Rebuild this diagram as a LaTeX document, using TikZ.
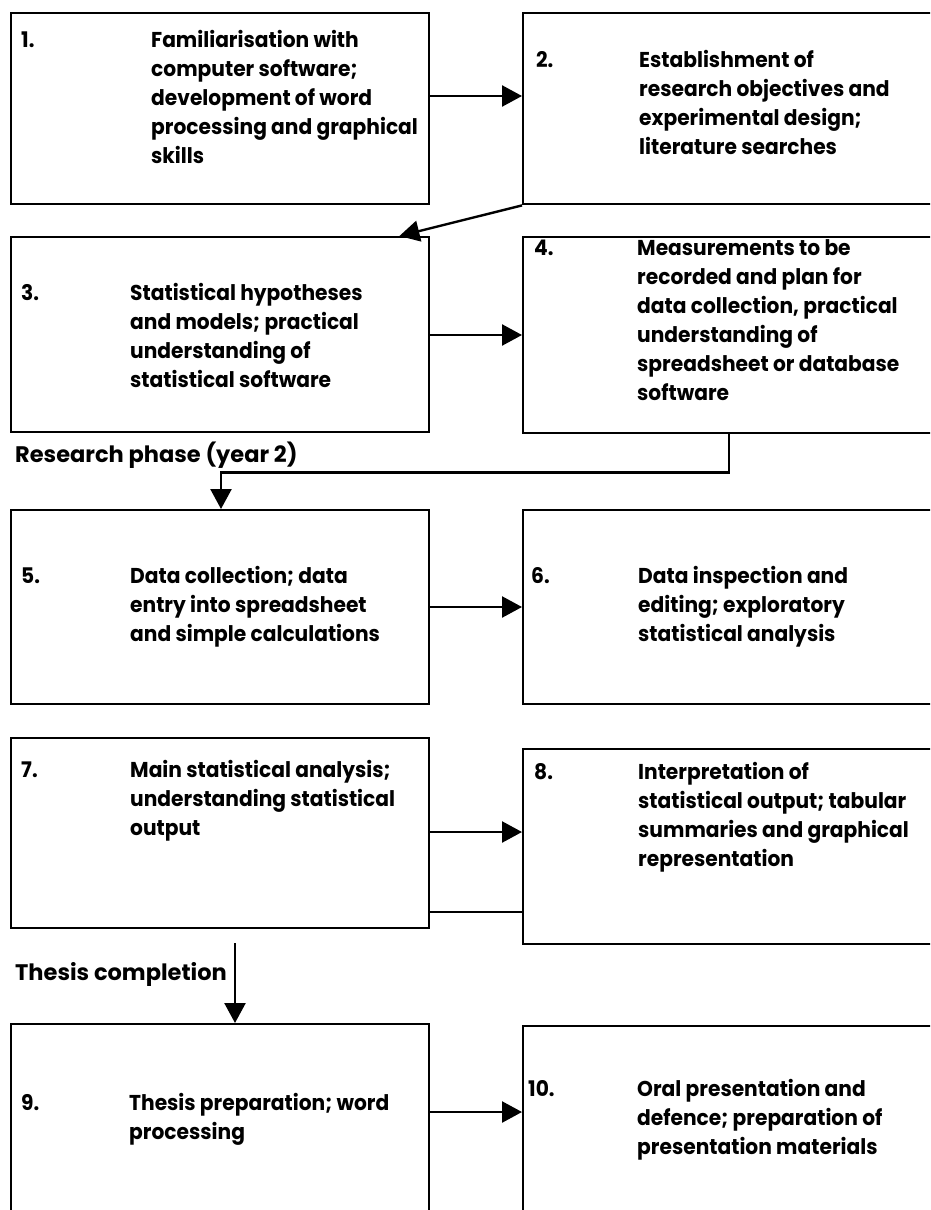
\documentclass[tikz,border=0pt]{standalone}
\usepackage{fontspec}
\setmainfont{Poppins}[FakeStretch=0.94]
\newfontfamily\phasefont{Poppins}[FakeStretch=1.0]
\usetikzlibrary{arrows.meta,calc}
\newcommand\mylines[1]{\begin{tabular}[t]{@{}l@{}}#1\end{tabular}}
\begin{document}
\begin{tikzpicture}[x=1pt,y=-1pt,
  box/.style={draw,line width=2.4pt,inner sep=0pt,anchor=north west,minimum height=#1},
  lbox/.style={box=#1,minimum width=418pt},
  rbox/.style={box=#1,minimum width=430pt},
  lbl/.style={anchor=base west,inner sep=0pt,font=\bfseries\fontsize{21.5}{29}\selectfont},
  phase/.style={anchor=base west,inner sep=0pt,font=\phasefont\bfseries\fontsize{22.5}{29}\selectfont},
  conn/.style={line width=2.4pt},
  arr/.style={conn,-{Triangle[length=20pt,width=21pt]}}]
\clip (0,0) rectangle (930,1210);
% boxes
\node[lbox=191pt] (b1) at (10,12) {};
\node[rbox=191pt] (b2) at (522,12) {};
\node[lbox=195pt] (b3) at (10,236) {};
\node[rbox=196pt] (b4) at (522,236) {};
\node[lbox=194pt] (b5) at (10,509) {};
\node[rbox=194pt] (b6) at (522,509) {};
\node[lbox=190pt] (b7) at (10,737) {};
\node[rbox=195pt] (b8) at (522,748) {};
\node[lbox=210pt] (b9) at (10,1023) {};
\node[rbox=210pt] (b10) at (522,1025) {};
% numbers and texts
\node[lbl] (n1) at (21,47) {1.};
\node[lbl] (t1) at (151,47) {\mylines{Familiarisation with\\computer software;\\development of word\\processing and graphical\\skills}};
\node[lbl] (n2) at (536,67) {2.};
\node[lbl] (t2) at (639,67) {\mylines{Establishment of\\research objectives and\\experimental design;\\literature searches}};
\node[lbl] (n3) at (21,300) {3.};
\node[lbl] (t3) at (130,300) {\mylines{Statistical hypotheses\\and models; practical\\understanding of\\statistical software}};
\node[lbl] (n4) at (534,255) {4.};
\node[lbl] (t4) at (637,255) {\mylines{Measurements to be\\recorded and plan for\\data collection, practical\\understanding of\\spreadsheet or database\\software}};
\node[lbl] (n5) at (21,583) {5.};
\node[lbl] (t5) at (130,583) {\mylines{Data collection; data\\entry into spreadsheet\\and simple calculations}};
\node[lbl] (n6) at (531,583) {6.};
\node[lbl] (t6) at (638,583) {\mylines{Data inspection and\\editing; exploratory\\statistical analysis}};
\node[lbl] (n7) at (21,777) {7.};
\node[lbl] (t7) at (130,777) {\mylines{Main statistical analysis;\\understanding statistical\\output}};
\node[lbl] (n8) at (534,779) {8.};
\node[lbl] (t8) at (638,779) {\mylines{Interpretation of\\statistical output; tabular\\summaries and graphical\\representation}};
\node[lbl] (n9) at (21,1110) {9.};
\node[lbl] (t9) at (129,1110) {\mylines{Thesis preparation; word\\processing}};
\node[lbl] (n10) at (528,1096) {10.};
\node[lbl] (t10) at (637,1096) {\mylines{Oral presentation and\\defence; preparation of\\presentation materials}};
% phase labels
\node[phase] (ph1) at (15,462) {Research phase (year 2)};
\node[phase] (ph2) at (15,980) {Thesis completion};
% connectors
\coordinate (a12) at ($(b1.north east)+(0,84)$);
\draw[arr] (a12) -- (a12 -| b2.west);
\draw[arr] (b2.south west) -- ($(b3.north east)+(-31,0)$);
\coordinate (a34) at ($(b3.north east)+(0,99)$);
\draw[arr] (a34) -- (a34 -| b4.west);
\coordinate (s4) at ($(b4.south west)+(207,0)$);
\coordinate (e5) at ($(b5.north west)+(211,0)$);
\draw[arr] (s4) -- ++(0,38) -| (e5);
\coordinate (a56) at ($(b5.north east)+(0,98)$);
\draw[arr] (a56) -- (a56 -| b6.west);
\coordinate (a78) at ($(b7.north east)+(0,95)$);
\draw[arr] (a78) -- (a78 -| b8.west);
\coordinate (l78) at ($(b7.north east)+(0,175)$);
\draw[conn] (l78) -- (l78 -| b8.west);
\coordinate (tc) at (235,943);
\draw[arr] (tc) -- (tc |- b9.north);
\coordinate (a910) at ($(b9.north east)+(0,89)$);
\draw[arr] (a910) -- (a910 -| b10.west);
\end{tikzpicture}
\end{document}
